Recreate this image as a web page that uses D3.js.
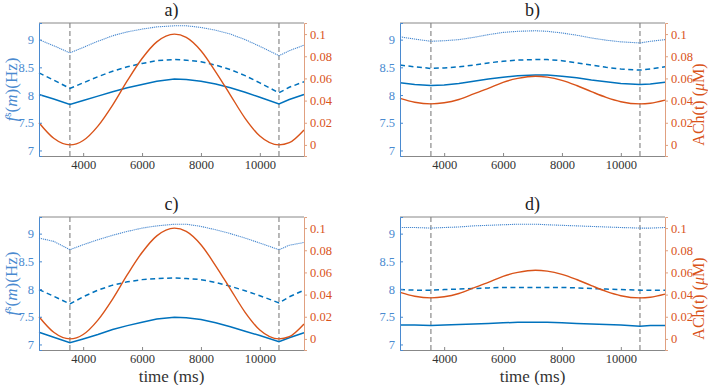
<!DOCTYPE html>
<html>
<head>
<meta charset="utf-8">
<script src="https://cdn.jsdelivr.net/npm/d3@7"></script>
<style>
  body { margin: 0; background: #fff; }
</style>
</head>
<body>
<svg id="chart" width="708" height="385"></svg>
<script>
// time grid (ms), cusps at the dashed lines
const times = [2500, 3000, 3550, 4000, 4500, 5000, 5500, 6000, 6500, 7100,
               7500, 8000, 8500, 9000, 9500, 10000, 10650, 11000, 11500];
const dashedTimes = [3550, 10650];
const xTicks = [4000, 6000, 8000, 10000];
const leftTicks = [7, 7.5, 8, 8.5, 9];
const rightTicks = [0, 0.02, 0.04, 0.06, 0.08, 0.1];
const panelTitles = ["a)", "b)", "c)", "d)"];

// ACh(t) (uM)
const achA = [0.020, 0.006, 0, 0.004, 0.017, 0.036, 0.058, 0.078, 0.093, 0.100,
              0.097, 0.085, 0.066, 0.045, 0.024, 0.008, 0, 0.002, 0.0135];
const achB = [0.042, 0.0385, 0.037, 0.038, 0.041, 0.046, 0.051, 0.0565, 0.060, 0.062,
              0.0612, 0.0583, 0.0536, 0.0481, 0.0429, 0.039, 0.037, 0.0376, 0.0404];
const achC = achA;
const achD = achB;

// f^s(m) (Hz) - dotted / dashed / solid
const dotA = [9.00, 8.89, 8.76, 8.86, 8.97, 9.07, 9.14, 9.19, 9.23, 9.25,
              9.25, 9.22, 9.17, 9.10, 9.00, 8.88, 8.71, 8.80, 8.90];
const dashA = [8.40, 8.27, 8.12, 8.22, 8.33, 8.43, 8.51, 8.57, 8.62, 8.64,
               8.63, 8.60, 8.54, 8.46, 8.35, 8.22, 8.04, 8.14, 8.24];
const solidA = [8.01, 7.93, 7.83, 7.90, 7.98, 8.06, 8.13, 8.19, 8.25, 8.29,
                8.28, 8.25, 8.20, 8.13, 8.05, 7.96, 7.84, 7.92, 8.01];

const dotB = [9.05, 9.01, 8.97, 8.98, 9.00, 9.04, 9.09, 9.13, 9.15, 9.16,
              9.15, 9.12, 9.08, 9.03, 8.99, 8.96, 8.94, 8.97, 9.00];
const dashB = [8.54, 8.51, 8.48, 8.49, 8.51, 8.54, 8.58, 8.61, 8.63, 8.64,
               8.64, 8.62, 8.58, 8.54, 8.50, 8.47, 8.45, 8.47, 8.51];
const solidB = [8.22, 8.19, 8.17, 8.18, 8.21, 8.25, 8.29, 8.32, 8.35, 8.36,
                8.36, 8.34, 8.31, 8.27, 8.24, 8.21, 8.19, 8.20, 8.23];

const dotC = [8.92, 8.86, 8.71, 8.80, 8.89, 8.97, 9.04, 9.10, 9.14, 9.17,
              9.17, 9.13, 9.07, 9.00, 8.92, 8.83, 8.71, 8.79, 8.84];
const dashC = [7.99, 7.87, 7.73, 7.86, 7.98, 8.07, 8.13, 8.17, 8.19, 8.20,
               8.19, 8.17, 8.12, 8.05, 7.97, 7.88, 7.75, 7.86, 7.98];
const solidC = [7.22, 7.13, 7.03, 7.10, 7.18, 7.27, 7.34, 7.40, 7.46, 7.49,
                7.48, 7.45, 7.39, 7.32, 7.24, 7.16, 7.05, 7.12, 7.21];

const dotD = [9.11, 9.11, 9.10, 9.11, 9.12, 9.14, 9.15, 9.16, 9.17, 9.17,
              9.16, 9.15, 9.14, 9.13, 9.12, 9.11, 9.10, 9.10, 9.11];
const dashD = [7.99, 7.98, 7.98, 7.99, 8.00, 8.01, 8.02, 8.03, 8.03, 8.03,
               8.03, 8.03, 8.02, 8.01, 8.00, 7.99, 7.98, 7.98, 7.98];
const solidD = [7.35, 7.35, 7.34, 7.35, 7.36, 7.37, 7.38, 7.39, 7.40, 7.40,
                7.40, 7.39, 7.38, 7.37, 7.36, 7.35, 7.33, 7.34, 7.34];

const blue = "#0072BD", blueAxis = "#4a8ad0", orange = "#D95319", gray = "#7f7f7f";
const serif = "'Times New Roman', serif";

const panels = [
  {title: panelTitles[0], x: 39, y: 23, ach: achA, dot: dotA, dash: dashA, solid: solidA, leftLabel: true, rightLabel: false, xLabel: false},
  {title: panelTitles[1], x: 400, y: 23, ach: achB, dot: dotB, dash: dashB, solid: solidB, leftLabel: false, rightLabel: true, xLabel: false},
  {title: panelTitles[2], x: 39, y: 217, ach: achC, dot: dotC, dash: dashC, solid: solidC, leftLabel: true, rightLabel: false, xLabel: true},
  {title: panelTitles[3], x: 400, y: 217, ach: achD, dot: dotD, dash: dashD, solid: solidD, leftLabel: false, rightLabel: true, xLabel: true}
];

const w = 265, h = 133;
const svg = d3.select("#chart");

const xScale = d3.scaleLinear().domain([2500, 11500]).range([0, w]);
const yLeft = d3.scaleLinear().domain([6.9, 9.3]).range([h, 0]);
const yRight = d3.scaleLinear().domain([-0.01, 0.11]).range([h, 0]);

panels.forEach(p => {
  const g = svg.append("g").attr("transform", `translate(${p.x},${p.y})`);

  // title
  g.append("text")
    .attr("x", w / 2).attr("y", -7)
    .attr("text-anchor", "middle")
    .attr("font-family", serif)
    .attr("font-size", 18).attr("fill", "#222")
    .text(p.title);

  // dashed vertical markers
  g.selectAll(".vline")
    .data(dashedTimes)
    .join("line")
    .attr("x1", d => xScale(d)).attr("x2", d => xScale(d))
    .attr("y1", 0).attr("y2", h)
    .attr("stroke", gray).attr("stroke-width", 1.1)
    .attr("stroke-dasharray", "5,3");

  const lineL = d3.line().x((d, i) => xScale(times[i])).y(d => yLeft(d));
  const lineR = d3.line().x((d, i) => xScale(times[i])).y(d => yRight(d)).curve(d3.curveMonotoneX);

  g.append("path").datum(p.dot).attr("d", lineL)
    .attr("fill", "none").attr("stroke", "#4a8ad0").attr("stroke-width", 1.1)
    .attr("stroke-dasharray", "1.2,0.8");
  g.append("path").datum(p.dash).attr("d", lineL)
    .attr("fill", "none").attr("stroke", blue).attr("stroke-width", 1.5)
    .attr("stroke-dasharray", "5,3.5");
  g.append("path").datum(p.solid).attr("d", lineL)
    .attr("fill", "none").attr("stroke", blue).attr("stroke-width", 1.5);
  g.append("path").datum(p.ach).attr("d", lineR)
    .attr("fill", "none").attr("stroke", orange).attr("stroke-width", 1.4);

  // box top
  g.append("line").attr("x1", 0).attr("x2", w).attr("y1", 0).attr("y2", 0)
    .attr("stroke", "#888").attr("stroke-width", 1);

  const xAxis = g.append("g").attr("transform", `translate(0,${h})`)
    .call(d3.axisBottom(xScale).tickValues(xTicks).tickSize(-3).tickPadding(4).tickFormat(d3.format("d")))
    .attr("font-family", serif).attr("font-size", 12.5);
  xAxis.select(".domain").attr("stroke", "#888");
  xAxis.selectAll(".tick line").attr("stroke", "#888");
  xAxis.selectAll("text").attr("fill", "#333");

  const lAxis = g.append("g")
    .call(d3.axisLeft(yLeft).tickValues(leftTicks).tickSize(-3).tickPadding(5).tickFormat(d => d))
    .attr("font-family", serif).attr("font-size", 12.5);
  lAxis.select(".domain").attr("stroke", blueAxis);
  lAxis.selectAll(".tick line").attr("stroke", blueAxis);
  lAxis.selectAll("text").attr("fill", blueAxis);

  const rAxis = g.append("g").attr("transform", `translate(${w},0)`)
    .call(d3.axisRight(yRight).tickValues(rightTicks).tickSize(3).tickPadding(3).tickFormat(d => d))
    .attr("font-family", serif).attr("font-size", 12.5);
  rAxis.select(".domain").attr("stroke", "#e0a080");
  rAxis.selectAll(".tick line").attr("stroke", "#e0a080");
  rAxis.selectAll("text").attr("fill", orange);

  if (p.leftLabel) {
    const t = g.append("text")
      .attr("transform", `translate(-22,${h / 2}) rotate(-90)`)
      .attr("text-anchor", "middle")
      .attr("font-family", serif)
      .attr("font-size", 17).attr("fill", blueAxis);
    t.append("tspan").attr("font-style", "italic").text("f");
    t.append("tspan").attr("font-size", 11).attr("dy", -6).text("s");
    t.append("tspan").attr("dy", 6).text("(");
    t.append("tspan").attr("font-style", "italic").text("m");
    t.append("tspan").text(")(Hz)");
  }

  if (p.rightLabel) {
    const t = g.append("text")
      .attr("transform", `translate(${w + 39},${h / 2 + 15}) rotate(-90)`)
      .attr("text-anchor", "middle")
      .attr("font-family", serif)
      .attr("font-size", 16).attr("fill", orange);
    t.append("tspan").text("ACh(t) (");
    t.append("tspan").attr("font-style", "italic").text("μ");
    t.append("tspan").text("M)");
  }

  if (p.xLabel) {
    g.append("text")
      .attr("x", w / 2).attr("y", h + 32)
      .attr("text-anchor", "middle")
      .attr("font-family", serif)
      .attr("font-size", 17).attr("fill", "#333")
      .text("time (ms)");
  }
});
</script>
</body>
</html>
